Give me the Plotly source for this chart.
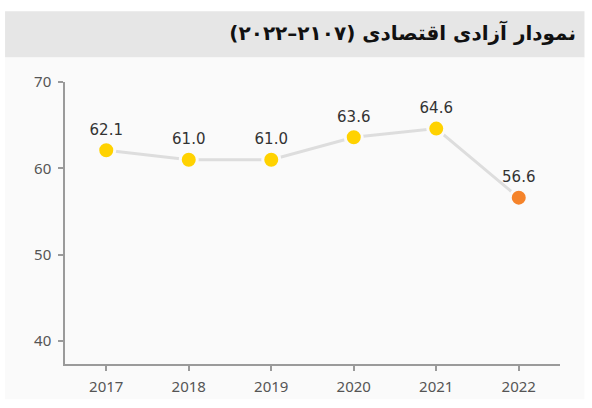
import plotly.graph_objects as go

years = ["2017", "2018", "2019", "2020", "2021", "2022"]
values = [62.1, 61.0, 61.0, 63.6, 64.6, 56.6]
labels = ["62.1", "61.0", "61.0", "63.6", "64.6", "56.6"]
point_colors = ["#FFD200", "#FFD200", "#FFD200", "#FFD200", "#FFD200", "#F5832A"]
y_ticks = [40, 50, 60, 70]
title_text = "\u202bنمودار آزادی اقتصادی (۲۱۰۷–۲۰۲۲)\u202c"

W, H = 592, 408
L, R, T, B = 65, 31.5, 81.7, 40.7
pw, ph = W - L - R, H - T - B

def px(x):
    return (x - L) / pw

def py(y):
    return (H - B - y) / ph

fig = go.Figure()
fig.add_trace(go.Scatter(
    x=years, y=values, mode="lines+markers+text",
    line=dict(color="#dddddd", width=3),
    marker=dict(size=17, color=point_colors, line=dict(color="#fafafa", width=3)),
    text=labels, textposition="top center",
    textfont=dict(family="DejaVu Sans", size=15, color="#333333"),
    cliponaxis=False, hoverinfo="skip",
))

fig.update_layout(
    width=W, height=H,
    margin=dict(l=L, r=R, t=T, b=B, pad=0),
    paper_bgcolor="white", plot_bgcolor="rgba(0,0,0,0)",
    showlegend=False,
    title=dict(text=title_text, x=576 / W, xanchor="right", xref="container",
               y=1 - 33 / H, yanchor="middle", yref="container",
               font=dict(family="DejaVu Sans", size=20, color="#111111", weight="bold")),
    shapes=[
        dict(type="rect", xref="paper", yref="paper", x0=px(5), x1=px(585), y0=py(57), y1=py(10),
             fillcolor="#e6e6e6", line=dict(width=0), layer="below"),
        dict(type="rect", xref="paper", yref="paper", x0=px(5), x1=px(585), y0=py(403), y1=py(57),
             fillcolor="#fafafa", line=dict(width=0), layer="below"),
    ],
    xaxis=dict(type="category", range=[-0.5, 5.5], showgrid=False, zeroline=False,
               showline=True, linecolor="#9a9a9a", linewidth=1.5,
               ticks="outside", ticklen=5, tickcolor="#9a9a9a", tickwidth=1.5,
               ticklabelstandoff=3,
               tickfont=dict(family="Noto Sans", size=15, color="#555555")),
    yaxis=dict(range=[37.33, 70], tickvals=y_ticks, showgrid=False, zeroline=False,
               showline=True, linecolor="#9a9a9a", linewidth=1.5,
               ticks="outside", ticklen=5, tickcolor="#9a9a9a", tickwidth=1.5,
               ticklabelstandoff=4,
               tickfont=dict(family="Noto Sans", size=15, color="#555555")),
)

fig.write_html("out.html", config={"displayModeBar": False},
               post_script="document.body.style.margin='0';")
